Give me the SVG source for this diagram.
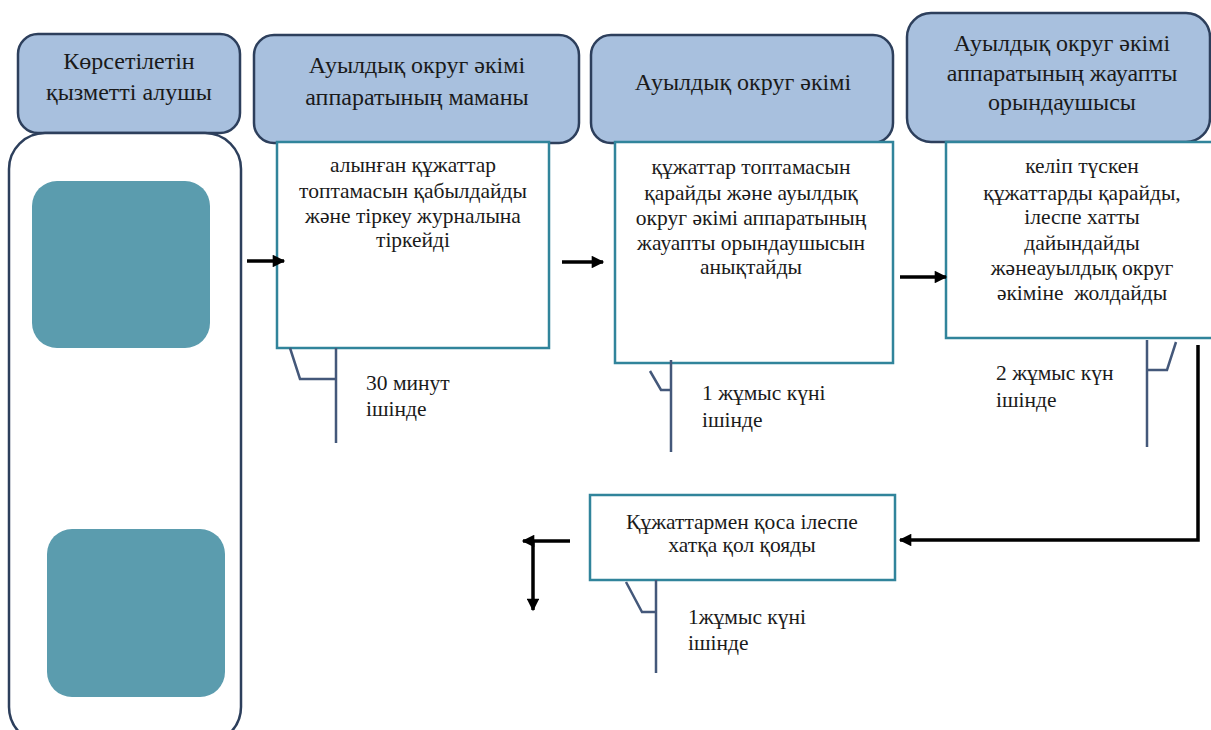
<svg xmlns="http://www.w3.org/2000/svg" width="1211" height="730" viewBox="0 0 1211 730">
<style>
.hdr{fill:#a8c0de;stroke:#2d3f5c;stroke-width:2.5}
.box{fill:#ffffff;stroke:#31849b;stroke-width:2.5}
.teal{fill:#5b9cae;stroke:none}
text{font-family:'Liberation Serif','DejaVu Serif',serif;fill:#1a1a1a}
.t{text-anchor:middle}
.h{font-size:24px}
.b{font-size:21.5px}
.l{font-size:21.5px}
.br{fill:none;stroke:#44587a;stroke-width:2.5}
.ar{fill:none;stroke:#000;stroke-width:3.5}
</style>
<defs>
<marker id="ah" viewBox="0 0 10 10" refX="9" refY="5" markerWidth="4" markerHeight="3.6" orient="auto" markerUnits="strokeWidth">
<path d="M0,0 L10,5 L0,10 z" fill="#000"/>
</marker>
</defs>
<rect width="1211" height="730" fill="#ffffff"/>

<g id="recipient">
<rect class="hdr" x="18" y="34" width="222" height="99" rx="20"/>
<text class="t h" x="129" y="69">Көрсетілетін</text>
<text class="t h" x="129" y="100">қызметті алушы</text>
<rect x="9" y="133" width="232" height="610" rx="36" fill="#fff" stroke="#2d3f5c" stroke-width="2.5"/>
<rect class="teal" x="32" y="181" width="178" height="167" rx="25"/>
<rect class="teal" x="47" y="529" width="178" height="168" rx="25"/>
</g>

<g id="specialist">
<rect class="hdr" x="254" y="35" width="325" height="108" rx="20"/>
<text class="t h" x="417" y="73">Ауылдық округ әкімі</text>
<text class="t h" x="417" y="105">аппаратының маманы</text>
<rect class="box" x="277" y="142" width="272" height="206"/>
<text class="t b" x="413" y="172">алынған құжаттар</text>
<text class="t b" x="413" y="198">топтамасын қабылдайды</text>
<text class="t b" x="413" y="223">және тіркеу журналына</text>
<text class="t b" x="413" y="247">тіркейді</text>
</g>

<g id="akim">
<rect class="hdr" x="591" y="35" width="302" height="108" rx="20"/>
<text class="t h" x="743" y="90">Ауылдық округ әкімі</text>
<rect class="box" x="615" y="142" width="278" height="221"/>
<text class="t b" x="751" y="174">құжаттар топтамасын</text>
<text class="t b" x="751" y="200">қарайды және ауылдық</text>
<text class="t b" x="751" y="225">округ әкімі аппаратының</text>
<text class="t b" x="751" y="250">жауапты орындаушысын</text>
<text class="t b" x="751" y="274">анықтайды</text>
</g>

<g id="executor">
<rect class="hdr" x="907" y="13" width="303" height="129" rx="24"/>
<text class="t h" x="1062" y="51">Ауылдық округ әкімі</text>
<text class="t h" x="1062" y="81">аппаратының жауапты</text>
<text class="t h" x="1062" y="110">орындаушысы</text>
<rect class="box" x="946" y="142" width="275" height="196"/>
<text class="t b" x="1082" y="173">келіп түскен</text>
<text class="t b" x="1082" y="200">құжаттарды қарайды,</text>
<text class="t b" x="1082" y="224">ілеспе хатты</text>
<text class="t b" x="1082" y="250">дайындайды</text>
<text class="t b" x="1082" y="275">жәнеауылдық округ</text>
<text class="t b" x="1082" y="300" xml:space="preserve">әкіміне  жолдайды</text>
</g>

<g id="sign">
<rect class="box" x="590" y="495" width="305" height="85"/>
<text class="t b" x="742" y="529">Құжаттармен қоса ілеспе</text>
<text class="t b" x="742" y="552">хатқа қол қояды</text>
</g>

<g id="durations">
<path class="br" d="M290,348 L300,379 L336,379 M336,348 L336,443"/>
<text class="l" x="366" y="390">30 минут</text>
<text class="l" x="366" y="416">ішінде</text>
<path class="br" d="M650,371 L661,390 L671,390 M671,360 L671,452"/>
<text class="l" x="702" y="400">1 жұмыс күні</text>
<text class="l" x="702" y="427">ішінде</text>
<path class="br" d="M1176,342 L1167,370 L1147,370 M1147,340 L1147,447"/>
<text class="l" x="996" y="380">2 жұмыс күн</text>
<text class="l" x="996" y="407">ішінде</text>
<path class="br" d="M626,582 L642,612 L656,612 M656,580 L656,673"/>
<text class="l" x="688" y="624">1жұмыс күні</text>
<text class="l" x="688" y="650">ішінде</text>
</g>

<g id="connectors">
<line class="ar" x1="247" y1="261" x2="284" y2="261" marker-end="url(#ah)"/>
<line class="ar" x1="562" y1="262" x2="603" y2="262" marker-end="url(#ah)"/>
<line class="ar" x1="900" y1="277" x2="946" y2="277" marker-end="url(#ah)"/>
<polyline class="ar" points="1198,345 1198,540 900,540" marker-end="url(#ah)"/>
<line class="ar" x1="570" y1="541" x2="523" y2="541" marker-end="url(#ah)"/>
<line class="ar" x1="533" y1="542" x2="533" y2="610" marker-end="url(#ah)"/>
</g>
</svg>
